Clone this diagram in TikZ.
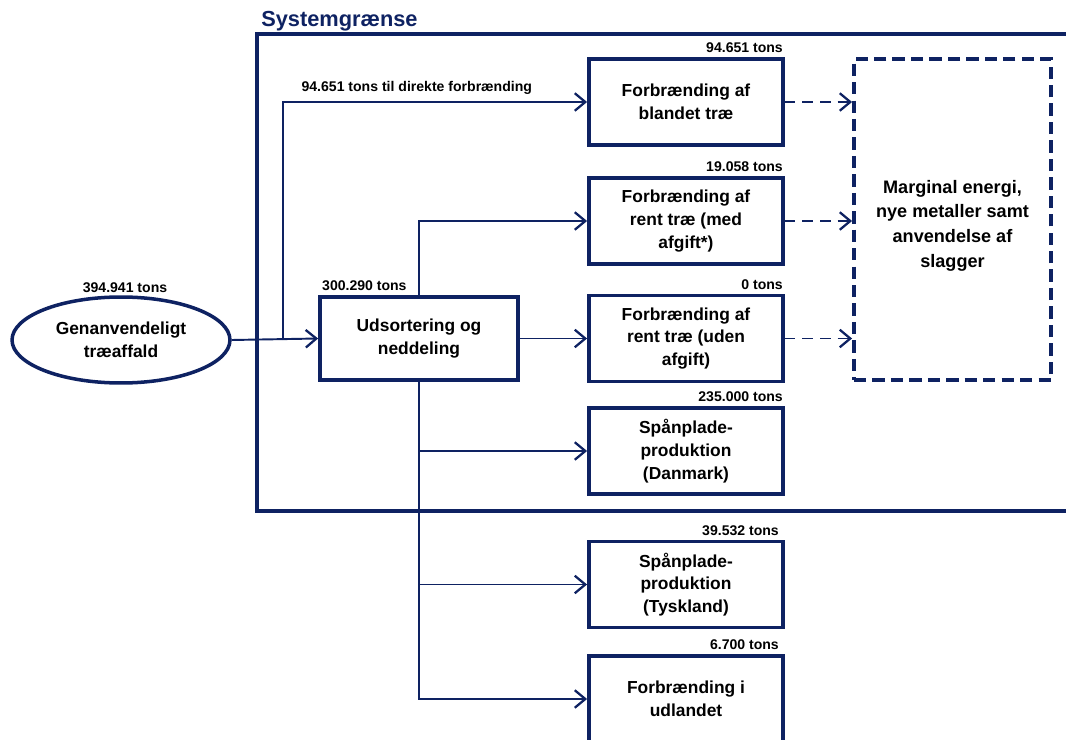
\documentclass[tikz,border=0pt]{standalone}
\usepackage{fontspec}
\setmainfont{Liberation Sans}
\usetikzlibrary{calc}
\usetikzlibrary{arrows.meta}
\usetikzlibrary{shapes.geometric}
\definecolor{darkblue}{RGB}{14,34,98}
\tikzset{>={Straight Barb[length=6pt,width=10pt,line width=1.3pt]}}
\tikzstyle{box}=[draw=darkblue,line width=2.2pt,minimum width=3.88cm,minimum height=1.72cm,
  align=center,inner sep=2pt,font=\fontsize{9.9}{13}\selectfont\bfseries]
\tikzstyle{flow}=[->,darkblue,line width=1.1pt]
\tikzstyle{lossflow}=[flow,dash pattern=on 6pt off 4pt]
\tikzstyle{tons}=[text=black,font=\fontsize{8}{9}\selectfont\bfseries,inner sep=1pt]

\begin{document}
\begin{tikzpicture}[x=0.02cm,y=-0.02cm]
  \useasboundingbox (0,0) rectangle (1066,740);

  % SYSTEM BOUNDARY
  \draw[darkblue,line width=2pt] (1090,34) -- (257,34) -- (257,511) -- (1090,511);
  \node[anchor=base west,inner sep=0pt,darkblue,font=\fontsize{12.4}{14}\selectfont\bfseries]
    (title) at (261,27) {Systemgrænse};

  % SOURCE AND SORTING
  \node[ellipse,draw=darkblue,line width=2pt,minimum width=4.36cm,minimum height=1.72cm,
    align=center,font=\fontsize{9.9}{13}\selectfont\bfseries] (waste) at (121,340)
    {Genanvendeligt\\træaffald};
  \node[box,minimum width=3.96cm,minimum height=1.66cm] (sort) at (419,338.5)
    {Udsortering og\\neddeling};

  % TREATMENT
  \node[box] (mixed)   at (686,102)   {Forbrænding af\\blandet træ};
  \node[box] (cleanA)  at (686,221)   {Forbrænding af\\rent træ (med\\afgift*)};
  \node[box] (cleanB)  at (686,338.5) {Forbrænding af\\rent træ (uden\\afgift)};
  \node[box] (boardDK) at (686,451)   {Spånplade-\\produktion\\(Danmark)};
  \node[box] (boardDE) at (686,584.5) {Spånplade-\\produktion\\(Tyskland)};
  \node[box] (abroad)  at (686,699)   {Forbrænding i\\udlandet};

  % SUBSTITUTION
  \node[draw=darkblue,line width=2.2pt,dash pattern=on 7pt off 3.5pt,
    minimum width=3.94cm,minimum height=6.42cm] (energy) at (952.5,219.5) {};
  \node[anchor=north,align=center,font=\fontsize{10.3}{14}\selectfont\bfseries]
    (energytxt) at (952.5,174) {Marginal energi,\\nye metaller samt\\anvendelse af\\slagger};

  % AMOUNTS
  \node[tons,anchor=south] (tWaste) at ($(waste.north)+(4,0)$) {394.941 tons};
  \node[tons,anchor=south west] (tSort) at ($(sort.north west)+(2,-2)$) {300.290 tons};
  \node[tons,anchor=south east] (tMixed) at ($(mixed.north east)+(0,-2)$) {94.651 tons};
  \node[tons,anchor=south east] (tCleanA) at ($(cleanA.north east)+(0,-2)$) {19.058 tons};
  \node[tons,anchor=south east] (tCleanB) at ($(cleanB.north east)+(0,-2)$) {0 tons};
  \node[tons,anchor=south east] (tBoardDK) at ($(boardDK.north east)+(0,-2)$) {235.000 tons};
  \node[tons,anchor=south east] (tBoardDE) at ($(boardDE.north east)+(-4,-2)$) {39.532 tons};
  \node[tons,anchor=south east] (tAbroad) at ($(abroad.north east)+(-4,-2)$) {6.700 tons};

  % FLOWS
  \coordinate (split) at (283,340); % branch to direct incineration
  \draw[flow] (waste.east) -- (sort.west);
  \draw[flow] (split) |- (mixed.west)
    node[tons,pos=0.72,above=3pt] (tDirect) {94.651 tons til direkte forbrænding};
  \draw[flow] (sort.north) |- (cleanA.west);
  \draw[flow] (sort.east) -- (cleanB.west);
  \draw[flow] (sort.south) |- (boardDK.west);
  \draw[flow] (sort.south) |- (boardDE.west);
  \draw[flow] (sort.south) |- (abroad.west);

  % DASHED FLOWS
  \draw[lossflow] (mixed.east) -- (mixed.east -| energy.west);
  \draw[lossflow] (cleanA.east) -- (cleanA.east -| energy.west);
  \draw[lossflow] (cleanB.east) -- (cleanB.east -| energy.west);
\end{tikzpicture}
\end{document}
